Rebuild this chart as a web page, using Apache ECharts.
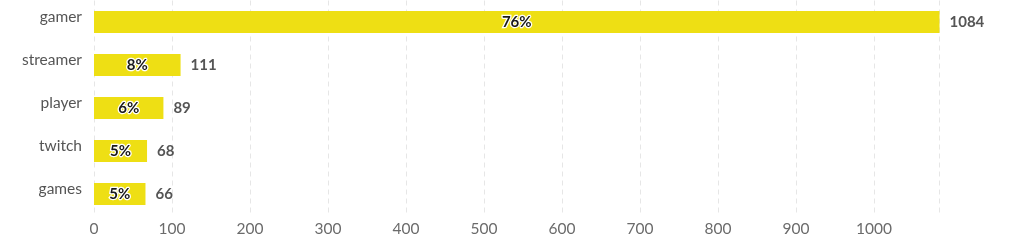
<!DOCTYPE html>
<html><head><meta charset="utf-8">
<script src="https://cdn.jsdelivr.net/npm/echarts@6/dist/echarts.min.js"></script>
<style>html,body{margin:0;padding:0;background:#fff}#c{width:1010px;height:249px}</style>
</head><body><div id="c"></div>
<script>
const categories = ['gamer', 'streamer', 'player', 'twitch', 'games'];
const values = [1084, 111, 89, 68, 66];
const percents = ['76%', '8%', '6%', '5%', '5%'];
const xTicks = [0, 100, 200, 300, 400, 500, 600, 700, 800, 900, 1000];

const chart = echarts.init(document.getElementById('c'));
chart.setOption({
  animation: false,
  textStyle: { fontFamily: 'Lato' },
  grid: { left: 94, right: 70.5, top: 0.5, bottom: 33.5, containLabel: false },
  xAxis: {
    type: 'value', min: 0, max: values[0], interval: 100,
    axisLine: { show: false }, axisTick: { show: false },
    splitLine: { show: true, lineStyle: { color: '#e6e6e6', type: [5, 4] } },
    axisLabel: {
      color: '#6b6b6b', fontSize: 15.5, fontFamily: 'Lato', margin: 5,
      formatter: v => xTicks.includes(v) ? String(v) : ''
    }
  },
  yAxis: {
    type: 'category', data: categories, inverse: true,
    axisLine: { show: false }, axisTick: { show: false },
    axisLabel: { color: '#555', fontSize: 15.5, fontFamily: 'Lato', margin: 12, verticalAlign: 'bottom', lineHeight: 10 }
  },
  series: [
    {
      type: 'bar', data: values, barCategoryGap: '49%',
      itemStyle: { color: '#eedf14' },
      label: {
        show: true, position: 'inside',
        formatter: p => percents[p.dataIndex],
        color: '#1a1a1a', fontWeight: 'bold', fontSize: 15, fontFamily: 'Lato',
        textBorderColor: '#fff', textBorderWidth: 2.5
      },
      z: 3
    },
    {
      type: 'bar', data: values, barCategoryGap: '49%', barGap: '-100%',
      itemStyle: { color: 'transparent' },
      label: {
        show: true, position: 'right', distance: 10,
        color: '#555', fontWeight: 'bold', fontSize: 15, fontFamily: 'Lato'
      },
      z: 2
    }
  ]
});
</script></body></html>
